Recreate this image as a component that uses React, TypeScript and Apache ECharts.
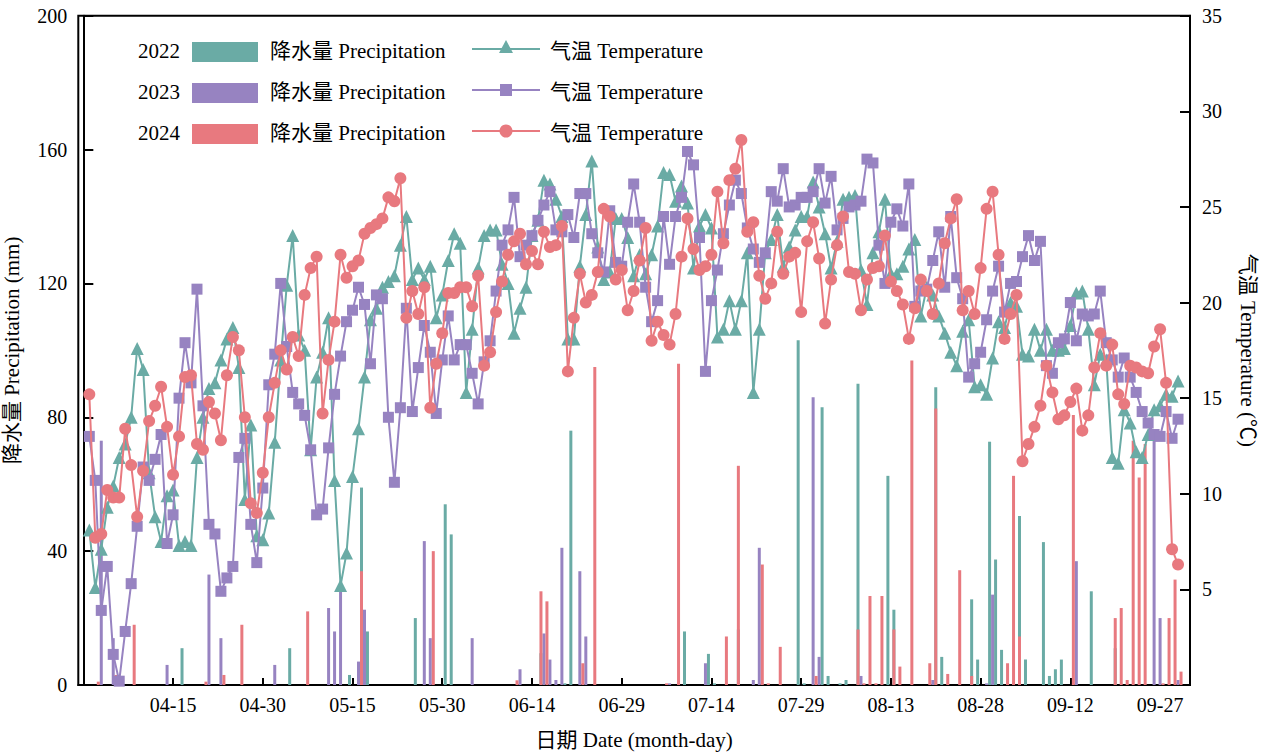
import React, { useEffect, useRef } from "react";
import * as echarts from "echarts";

// x value: 1 = 04-01 ... 183 = 09-30
const tickLabels = ["04-15", "04-30", "05-15", "05-30", "06-14", "06-29", "07-14", "07-29", "08-13", "08-28", "09-12", "09-27"];
const tickValues = [0, 15, 30, 45, 60, 75, 90, 105, 120, 135, 150, 165, 180];
const years = ["2022", "2023", "2024"];
const colors = ["#6aaba5", "#9783c1", "#e8797f"];

const temp2022 = [
  8.1, 5.1, 7.1, 9.3, 10.4, 11.9, 12.6, 14.0, 17.6, 16.5, 11.1, 8.8, 7.5, 9.9, 10.2, 7.3, 7.5, 7.3, 11.9, 14.0,
  15.5, 15.8, 17.0, 18.1, 18.7, 16.6, 9.7, 13.6, 7.8, 7.6, 9.0, 12.7, 17.0, 20.9, 23.5, 18.3, 17.5, 12.3, 16.1, 17.4,
  19.2, 10.7, 5.2, 6.9, 10.9, 13.4, 16.1, 19.1, 19.7, 20.8, 21.1, 21.4, 23.0, 24.5, 21.2, 21.8, 21.2, 21.9, 19.2, 20.4,
  22.2, 23.6, 23.1, 15.3, 18.6, 21.8, 23.5, 23.8, 23.8, 22.0, 21.0, 18.4, 19.7, 20.8, 23.5, 24.3, 26.4, 26.2, 25.4, 24.5,
  18.1, 18.1, 21.9, 24.6, 27.4, 22.9, 21.2, 21.6, 24.4, 24.4, 23.4, 21.4, 22.5, 21.5, 22.5, 24.0, 26.8, 26.7, 25.3, 26.1,
  25.2, 21.8, 24.0, 24.6, 23.9, 18.2, 18.6, 20.1, 18.6, 20.1, 22.6, 15.3, 18.6, 22.6, 23.3, 24.6, 21.9, 22.9, 23.8, 24.5,
  24.5, 26.3, 25.0, 23.6, 21.8, 23.2, 25.4, 25.5, 25.6, 21.7, 19.9, 22.6, 23.7, 25.4, 21.5, 21.5, 21.9, 22.8, 23.3, 19.3,
  20.8, 20.4, 19.3, 18.4, 17.4, 16.7, 18.5, 19.1, 15.6, 15.7, 15.2, 17.1, 19.0, 18.7, 20.0, 19.8, 17.3, 17.2, 18.6, 17.5,
  18.6, 17.5, 17.5, 17.6, 18.8, 20.5, 20.6, 18.6, 15.7, 17.3, 17.0, 11.9, 11.6, 14.4, 13.7, 12.2, 11.9, 13.1, 14.4, 14.6,
  15.2, 15.1, 15.9,
];
const temp2023 = [
  13.0, 10.7, 3.9, 6.2, 1.6, 0.2, 2.8, 5.3, 8.3, 11.4, 10.7, 11.8, 13.1, 7.4, 8.9, 15.0, 17.9, 15.8, 20.7, 14.6,
  8.4, 7.9, 4.9, 5.6, 6.2, 11.9, 12.9, 8.4, 6.4, 10.3, 15.7, 17.3, 21.0, 17.7, 15.3, 14.7, 14.1, 12.3, 8.9, 9.2,
  12.4, 15.2, 17.2, 19.0, 19.6, 20.8, 19.9, 16.8, 20.4, 20.2, 14.0, 10.6, 14.5, 19.7, 14.3, 16.6, 18.8, 17.4, 14.2, 17.0,
  19.3, 17.0, 17.8, 17.8, 16.3, 14.7, 16.9, 18.0, 20.6, 23.0, 23.8, 25.5, 22.4, 23.0, 23.5, 24.3, 25.1, 25.8, 23.8, 23.7,
  24.6, 23.4, 25.7, 25.7, 23.6, 22.6, 21.6, 24.8, 22.1, 21.9, 24.2, 26.2, 24.2, 20.8, 19.0, 20.1, 24.5, 22.0, 24.5, 25.5,
  27.9, 27.2, 23.4, 16.4, 20.1, 21.7, 23.6, 25.1, 26.4, 25.7, 23.9, 22.8, 22.1, 22.6, 25.8, 25.3, 27.0, 25.0, 25.1, 25.5,
  25.5, 25.8, 27.0, 25.2, 26.6, 23.8, 24.4, 25.0, 25.1, 25.3, 27.5, 27.3, 23.0, 21.0, 24.2, 24.9, 24.0, 26.2, 19.8, 20.6,
  20.7, 22.2, 23.7, 20.8, 24.5, 21.3, 20.2, 16.1, 16.8, 17.4, 19.1, 20.6, 21.9, 19.5, 21.0, 21.1, 22.4, 23.5, 22.2, 23.2,
  16.7, 16.3, 17.9, 18.1, 20.0, 18.0, 19.4, 19.3, 19.4, 20.6, 17.9, 17.0, 16.1, 17.1, 16.1, 15.3, 14.3, 13.7, 13.1, 13.0,
  14.3, 12.9, 13.9,
];
const temp2024 = [
  15.2, 7.7, 7.9, 10.2, 9.8, 9.8, 13.4, 11.5, 8.8, 11.2, 13.8, 14.6, 15.6, 13.5, 11.0, 13.0, 16.1, 16.2, 12.6, 12.3,
  14.8, 14.2, 12.8, 16.2, 18.2, 17.5, 14.0, 9.5, 9.0, 11.1, 14.0, 15.8, 17.5, 16.5, 18.2, 17.2, 20.4, 21.8, 22.4, 14.2,
  17.0, 19.0, 22.5, 21.3, 21.9, 22.2, 23.6, 23.9, 24.1, 24.4, 25.5, 25.3, 26.5, 19.2, 20.6, 19.4, 20.8, 14.5, 16.8, 18.4,
  20.5, 20.5, 20.8, 20.8, 19.8, 21.4, 16.7, 17.4, 19.5, 21.1, 22.5, 23.2, 23.6, 22.0, 22.7, 22.0, 23.7, 22.9, 23.0, 24.0,
  16.4, 19.2, 21.5, 20.0, 20.4, 21.6, 24.9, 24.5, 21.2, 21.7, 19.6, 20.6, 22.2, 23.9, 18.0, 19.0, 18.3, 17.8, 19.4, 22.4,
  24.4, 22.8, 21.7, 21.9, 22.5, 25.8, 23.1, 26.4, 27.0, 28.5, 23.7, 24.2, 21.4, 20.2, 21.0, 23.7, 21.5, 22.4, 22.6, 19.5,
  23.2, 24.2, 22.3, 18.9, 21.2, 23.0, 24.5, 21.6, 21.5, 19.6, 21.2, 21.8, 21.9, 23.5, 21.1, 20.6, 19.9, 18.1, 19.7, 21.2,
  20.6, 19.4, 21.0, 23.1, 24.4, 25.4, 19.6, 20.6, 19.4, 21.8, 24.9, 25.8, 22.5, 18.1, 19.4, 20.4, 11.7, 12.6, 13.5, 14.6,
  16.7, 15.3, 13.9, 14.1, 14.8, 15.5, 13.3, 14.1, 16.6, 18.4, 16.7, 17.8, 15.2, 14.7, 16.7, 16.6, 16.4, 16.3, 17.7, 18.6,
  15.8, 7.1, 6.3,
];

// [day, mm]
const rain2022 = [
  [17, 11], [35, 11], [45, 3], [47, 59], [48, 16], [56, 20], [61, 54], [62, 45], [77, 9.5], [81, 0.5], [82, 76],
  [101, 16], [105, 9.3], [106, 0.5], [110, 16.6], [120, 103], [121, 0.5], [124, 83], [125, 2.7], [127, 0.5], [128, 1.5],
  [130, 90], [135, 62.5], [136, 22.5], [143, 89], [144, 8.4], [149, 25.6], [150, 7.6], [152, 72.7], [153, 37.5],
  [154, 10.5], [157, 50.5], [158, 7.6], [161, 42.7], [162, 2.7], [163, 4.7], [164, 7.6], [169, 28], [173, 11],
];
const rain2023 = [
  [3, 73], [5, 14], [14, 6], [21, 33], [23, 14], [32, 6], [41, 23], [42, 16], [43, 28], [46, 7], [47, 22.5], [57, 43],
  [58, 14], [65, 14], [73, 4.7], [77, 15.4], [78, 7.6], [79, 1.5], [80, 41], [83, 34], [84, 14.5], [98, 0.5], [104, 6.5],
  [112, 1.5], [113, 41], [122, 86], [123, 8.4], [130, 2.7], [142, 1.5], [151, 0.5], [152, 27], [166, 37], [179, 76],
  [180, 20], [183, 1.5],
];
const rain2024 = [
  [2, 1], [5, 3], [8, 18], [20, 1], [23, 3], [26, 18], [37, 22], [46, 34], [58, 40], [72, 1.4], [76, 28], [77, 25],
  [83, 6.5], [85, 95], [97, 0.5], [99, 96], [107, 14.5], [109, 65.5], [113, 36], [114, 0.5], [116, 11.4], [122, 2.7],
  [129, 16.6], [130, 0.5], [131, 26.6], [132, 0.5], [133, 26.6], [135, 16.6], [136, 5.5], [138, 97], [141, 6.5],
  [142, 82.6], [144, 3.3], [146, 34.3], [148, 2.7], [154, 6.5], [155, 62.5], [156, 14.5], [165, 80.7], [172, 20],
  [173, 23], [174, 1.5], [175, 73], [176, 62], [177, 72], [180, 0.5], [181, 20], [182, 31.5], [183, 4],
];

const temps = [temp2022, temp2023, temp2024];
const rains = [rain2022, rain2023, rain2024];
const symbols = ["triangle", "rect", "circle"];
const symbolSizes = [13, 11, 12];
const barOffsets = [-3, 0, 3];
const BAR_W = 3;

const FONT = "'Liberation Serif', 'Times New Roman', 'Noto Sans CJK SC', serif";

function buildLegend() {
  const rows = [52, 93, 134];
  const els: any[] = [];
  rows.forEach((c, i) => {
    const col = colors[i];
    els.push({
      type: "text",
      left: 138,
      top: c - 12,
      style: { text: years[i], font: `21px ${FONT}`, fill: "#000" },
    });
    els.push({ type: "rect", shape: { x: 192, y: c - 10, width: 66, height: 20 }, style: { fill: col } });
    els.push({
      type: "text",
      left: 270,
      top: c - 12,
      style: { text: "降水量 Precipitation", font: `21px ${FONT}`, fill: "#000" },
    });
    els.push({
      type: "line",
      shape: { x1: 472, y1: c - 3, x2: 540, y2: c - 3 },
      style: { stroke: col, lineWidth: 2 },
    });
    if (i === 0) {
      els.push({
        type: "polygon",
        shape: { points: [[506, c - 12], [499, c + 1], [513, c + 1]] },
        style: { fill: col },
      });
    } else if (i === 1) {
      els.push({ type: "rect", shape: { x: 500, y: c - 9, width: 12, height: 12 }, style: { fill: col } });
    } else {
      els.push({ type: "circle", shape: { cx: 506, cy: c - 3, r: 6.5 }, style: { fill: col } });
    }
    els.push({
      type: "text",
      left: 550,
      top: c - 12,
      style: { text: "气温 Temperature", font: `21px ${FONT}`, fill: "#000" },
    });
  });
  return els;
}

export default function App() {
  const ref = useRef<HTMLDivElement>(null);
  useEffect(() => {
    document.body.style.margin = "0";
    const chart = echarts.init(ref.current!, undefined, { renderer: "svg" });
    const barSeries = rains.map((r, i) => ({
      name: years[i] + " 降水量",
      type: "custom",
      xAxisIndex: 0,
      yAxisIndex: 0,
      encode: { x: 0, y: 1 },
      data: r,
      z: 2,
      renderItem: (_params: any, api: any) => {
        const top = api.coord([api.value(0), api.value(1)]);
        const base = api.coord([api.value(0), 0]);
        return {
          type: "rect",
          shape: {
            x: top[0] + barOffsets[i] - BAR_W / 2,
            y: top[1],
            width: BAR_W,
            height: base[1] - top[1],
          },
          style: { fill: colors[i] },
        };
      },
    }));
    const lineSeries = temps.map((t, i) => ({
      name: years[i] + " 气温",
      type: "line",
      yAxisIndex: 1,
      data: t.map((v, k) => [k + 1, v]),
      symbol: symbols[i],
      symbolSize: symbolSizes[i],
      showAllSymbol: true,
      lineStyle: { color: colors[i], width: 2 },
      itemStyle: { color: colors[i] },
      z: 3 + i,
    }));
    chart.setOption({
      animation: false,
      textStyle: { fontFamily: FONT },
      grid: {
        left: 78.3,
        right: 73,
        top: 15.7,
        bottom: 69,
        show: true,
        borderColor: "#000",
        borderWidth: 2,
        backgroundColor: "transparent",
        containLabel: false,
        outerBoundsMode: "none",
      },
      xAxis: {
        type: "value",
        min: -0.84,
        max: 185,
        name: "日期 Date (month-day)",
        nameLocation: "middle",
        nameGap: 44,
        nameTextStyle: { fontSize: 21, color: "#000", fontFamily: FONT },
        axisLine: { show: true, lineStyle: { color: "#000", width: 2 } },
        axisTick: {
          show: true,
          inside: true,
          length: 7,
          customValues: tickValues,
          lineStyle: { color: "#000", width: 2 },
        },
        axisLabel: {
          fontSize: 20,
          color: "#000",
          fontFamily: FONT,
          margin: 10,
          customValues: tickValues.slice(1),
          formatter: (v: number) => {
            const i = Math.round(v / 15);
            if (i >= 1 && i <= tickLabels.length) return tickLabels[i - 1];
            return "";
          },
        },
        splitLine: { show: false },
      },
      yAxis: [
        {
          type: "value",
          min: 0,
          max: 200,
          interval: 40,
          position: "left",
          name: "降水量 Precipitation (mm)",
          nameLocation: "middle",
          nameRotate: 90,
          nameGap: 56,
          nameTextStyle: { fontSize: 21, color: "#000", fontFamily: FONT },
          axisLine: { show: true, lineStyle: { color: "#000", width: 2 } },
          axisTick: { show: true, inside: true, length: 10, lineStyle: { color: "#000", width: 2 } },
          axisLabel: { fontSize: 20, color: "#000", fontFamily: FONT, margin: 11 },
          splitLine: { show: false },
        },
        {
          type: "value",
          min: 0,
          max: 35,
          interval: 5,
          position: "right",
          name: "气温 Temperature (℃)",
          nameLocation: "middle",
          nameRotate: -90,
          nameGap: 48,
          nameTextStyle: { fontSize: 21, color: "#000", fontFamily: FONT },
          axisLine: { show: true, lineStyle: { color: "#000", width: 2 } },
          axisTick: { show: true, inside: true, length: 10, lineStyle: { color: "#000", width: 2 } },
          axisLabel: {
            fontSize: 20,
            color: "#000",
            fontFamily: FONT,
            margin: 12,
            formatter: (v: number) => (v === 0 ? "" : String(v)),
          },
          splitLine: { show: false },
        },
      ],
      graphic: buildLegend(),
      series: [...barSeries, ...lineSeries],
    });
    return () => chart.dispose();
  }, []);
  return <div ref={ref} style={{ width: 1263, height: 754 }} />;
}
